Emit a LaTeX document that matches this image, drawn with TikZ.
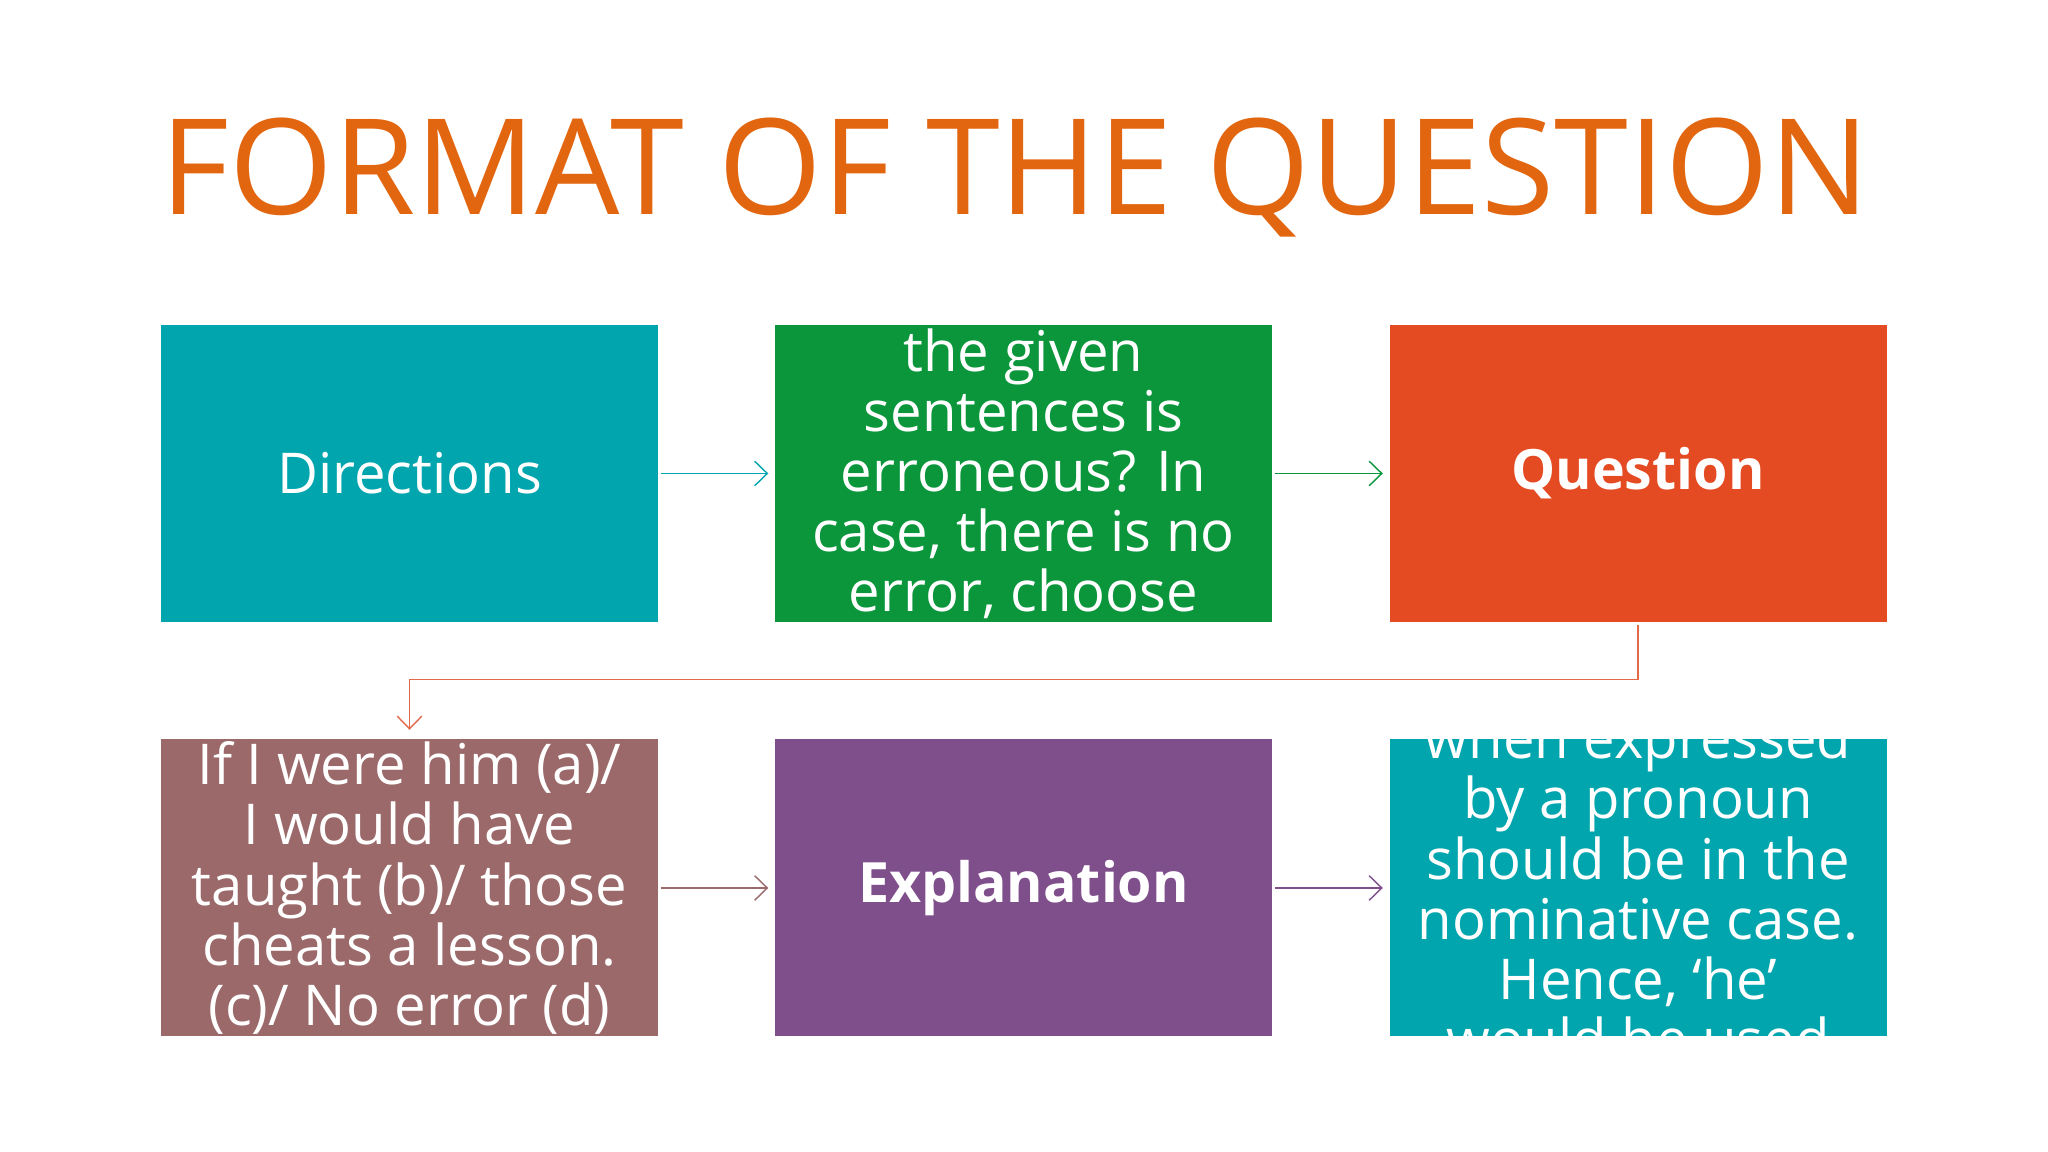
\documentclass[tikz,border=0pt]{standalone}
\usepackage{fontspec}
\setmainfont{Open Sans}
\usetikzlibrary{arrows.meta}
\definecolor{titleorange}{HTML}{E2650F}
\definecolor{boxteal}{HTML}{00A5AE}
\definecolor{boxgreen}{HTML}{0B963C}
\definecolor{boxred}{HTML}{E44B22}
\definecolor{boxbrown}{HTML}{9B6969}
\definecolor{boxpurple}{HTML}{7F4F8C}
\definecolor{linkred}{HTML}{E2694A}
\begin{document}
\begin{tikzpicture}[
    box/.style={rectangle, minimum width=4.97cm, minimum height=2.97cm, inner sep=0pt},
    boxtext/.style={text=white, align=center, font=\fontsize{16}{17.1}\selectfont, inner sep=0pt},
    link/.style={line width=0.4pt, -{Straight Barb[length=3.6pt, width=7pt]}, shorten <=0.02cm, shorten >=0.06cm}
]
    \useasboundingbox (0,0) rectangle (20.48,11.52);
    \node[anchor=base west, inner sep=0pt, text=titleorange, font=\fontsize{37.9}{40}\selectfont] (title) at (1.6,9.37) {FORMAT OF THE QUESTION};
    % first row
    \node[box, fill=boxteal] (dir) at (4.095,6.785) {};
    \node[box, fill=boxgreen] (txt) at (10.235,6.785) {};
    \node[box, fill=boxred] (q) at (16.38,6.785) {};
    % second row
    \node[box, fill=boxbrown] (ex) at (4.095,2.64) {};
    \node[box, fill=boxpurple] (expl) at (10.235,2.64) {};
    \node[box, fill=boxteal] (ans) at (16.38,2.64) {};
    % texts
    \node[boxtext] (dirtext) at (dir) {Directions};
    \node[boxtext] (txttext) at (txt) {the given\\sentences is\\erroneous? In\\case, there is no\\error, choose};
    \node[boxtext, font=\fontsize{15.8}{17.1}\selectfont\bfseries] (qtext) at (q) {Question};
    \node[boxtext] (extext) at (ex) {If I were him (a)/\\I would have\\taught (b)/ those\\cheats a lesson.\\(c)/ No error (d)};
    \node[boxtext, font=\fontsize{15.8}{17.1}\selectfont\bfseries] (expltext) at (expl) {Explanation};
    \node[boxtext] (anstext) at (ans) {when expressed\\by a pronoun\\should be in the\\nominative case.\\Hence, ‘he’\\would be used};
    % links
    \draw[link, boxteal] (dir) -- (txt);
    \draw[link, boxgreen] (txt) -- (q);
    \draw[link, linkred, shorten >=0.09cm] (q.south) -- ++(0,-0.57) -| (ex.north);
    \draw[link, boxbrown] (ex) -- (expl);
    \draw[link, boxpurple] (expl) -- (ans);
\end{tikzpicture}
\end{document}
